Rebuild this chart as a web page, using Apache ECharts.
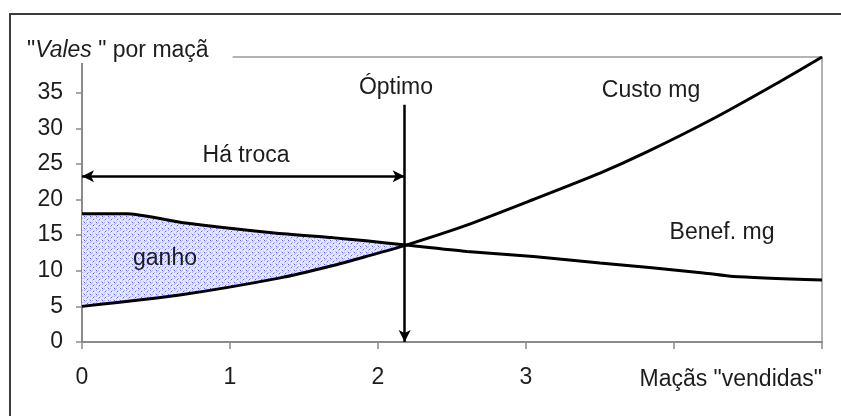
<!DOCTYPE html>
<html>
<head>
<meta charset="utf-8">
<script src="https://cdn.jsdelivr.net/npm/echarts@6/dist/echarts.min.js"></script>
<style>
  html, body { margin: 0; padding: 0; background: #fff; }
  #chart { width: 841px; height: 416px; }
</style>
</head>
<body>
<div id="chart"></div>
<script>
// Marginal benefit curve (vales per apple) against apples sold
const benefX = [0, 0.3, 0.7, 1.3, 1.69, 1.92, 2.19, 2.6, 3.05, 3.5, 4.2, 4.4, 5];
const benefY = [18, 18, 16.7, 15.3, 14.65, 14.2, 13.6, 12.7, 12.0, 11.1, 9.7, 9.2, 8.7];

// Marginal cost curve
const custoX = [0, 0.66, 1.34, 1.69, 1.92, 2.19, 2.6, 3.05, 3.5, 3.81, 4.27, 4.72, 5];
const custoY = [5, 6.6, 9.0, 10.7, 12.0, 13.6, 16.4, 20.0, 23.7, 26.6, 31.4, 36.6, 40];

// Where the curves cross (end of the gain area)
const crossX = 2.19;

// Optimum quantity, top of its arrow, and height of the "trade" arrow
const optimoX = 2.18;
const optimoArrowTop = 33.3;
const trocaY = 23.25;

// Axis ticks
const xTicks = [0, 1, 2, 3];
const yTicks = [0, 5, 10, 15, 20, 25, 30, 35];

const FONT = '"Liberation Sans", Arial, sans-serif';
const FS = 23;
const INK = '#1c1c1c';

// Dotted blue fill for the gain area
function dotPattern() {
  const c = document.createElement('canvas');
  c.width = 6; c.height = 6;
  const g = c.getContext('2d');
  g.fillStyle = '#e6e8fc';
  g.fillRect(0, 0, 6, 6);
  g.fillStyle = '#5c5cf5';
  g.fillRect(0, 0, 1, 1);
  g.fillRect(3, 3, 1, 1);
  g.fillStyle = '#b0b3f7';
  g.fillRect(2, 0, 1, 1); g.fillRect(0, 2, 1, 1);
  g.fillRect(4, 2, 1, 1); g.fillRect(2, 4, 1, 1);
  g.fillRect(5, 5, 1, 1); g.fillRect(1, 1, 1, 1);
  return c;
}

const benefData = benefX.map((x, i) => [x, benefY[i]]);
const custoData = custoX.map((x, i) => [x, custoY[i]]);

const chart = echarts.init(document.getElementById('chart'), null, { renderer: 'canvas' });

function label(text, x, y, align) {
  return {
    type: 'text', z: 20, x: x, y: y,
    style: {
      text: text, font: FS + 'px ' + FONT, fill: INK,
      textAlign: align || 'center', textVerticalAlign: 'middle'
    }
  };
}

chart.setOption({
  animation: false,
  backgroundColor: '#fff',
  title: {
    text: '{q|"}{i|Vales}{q| " por maçã}',
    left: 24,
    top: 38,
    backgroundColor: '#fff',
    padding: [1, 24, 1, 3],
    textStyle: {
      fontWeight: 'normal',
      rich: {
        q: { fontFamily: FONT, fontSize: FS, color: INK, fontWeight: 'normal' },
        i: { fontFamily: FONT, fontSize: FS, color: INK, fontWeight: 'normal', fontStyle: 'italic' }
      }
    }
  },
  grid: {
    left: 82, right: 19, top: 57, bottom: 74,
    show: true,
    borderColor: '#9a9a9a',
    borderWidth: 1.5,
    backgroundColor: 'transparent'
  },
  xAxis: {
    type: 'value',
    min: 0, max: 5, interval: 1,
    splitLine: { show: false },
    axisLine: { show: true, onZero: false, lineStyle: { color: '#8a8a8a', width: 2 } },
    axisTick: { show: true, length: 7, lineStyle: { color: '#8a8a8a', width: 1.5 } },
    axisLabel: {
      margin: 24,
      fontFamily: FONT, fontSize: FS, color: INK,
      formatter: v => (xTicks.indexOf(v) >= 0 ? String(v) : '')
    }
  },
  yAxis: {
    type: 'value',
    min: 0, max: 40, interval: 5,
    splitLine: { show: false },
    axisLine: { show: true, lineStyle: { color: '#8a8a8a', width: 2 } },
    axisTick: { show: true, length: 6, lineStyle: { color: '#8a8a8a', width: 1.5 } },
    axisLabel: {
      margin: 19,
      fontFamily: FONT, fontSize: FS, color: INK,
      formatter: v => (yTicks.indexOf(v) >= 0 ? String(v) : '')
    }
  },
  graphic: [
    {
      type: 'rect', z: 1, silent: true,
      shape: { x: 10, y: 14, width: 1000, height: 1000 },
      style: { fill: 'none', stroke: '#3c3c3c', lineWidth: 2 }
    },
    label('Óptimo', 396, 88),
    label('Há troca', 246, 156),
    label('ganho', 165, 259),
    label('Custo mg', 651, 91),
    label('Benef. mg', 722, 233),
    label('Maçãs "vendidas"', 822, 380, 'right')
  ],
  series: [
    {
      // Shaded gain between the two curves, up to their crossing
      type: 'custom',
      name: 'ganho',
      z: 1,
      silent: true,
      data: [[0, 0]],
      renderItem: function (params, api) {
        const pts = [];
        for (let i = 0; i < benefX.length; i++) {
          if (benefX[i] <= crossX) pts.push(api.coord([benefX[i], benefY[i]]));
        }
        for (let i = custoX.length - 1; i >= 0; i--) {
          if (custoX[i] <= crossX) pts.push(api.coord([custoX[i], custoY[i]]));
        }
        return {
          type: 'polygon',
          shape: { points: pts },
          style: { fill: { image: dotPattern(), repeat: 'repeat' }, stroke: 'none' }
        };
      }
    },
    {
      type: 'line',
      name: 'Benef. mg',
      z: 5,
      data: benefData,
      smooth: 0.2,
      showSymbol: false,
      symbol: 'none',
      lineStyle: { color: '#000', width: 3 },
      markLine: {
        silent: true,
        symbol: ['none', 'arrow'],
        symbolSize: [9, 12],
        label: { show: false },
        lineStyle: { color: '#000', width: 2.5, type: 'solid' },
        data: [[{ coord: [optimoX, optimoArrowTop] }, { coord: [optimoX, 0] }]]
      }
    },
    {
      type: 'line',
      name: 'Custo mg',
      z: 5,
      data: custoData,
      smooth: 0.2,
      showSymbol: false,
      symbol: 'none',
      lineStyle: { color: '#000', width: 3 },
      markLine: {
        silent: true,
        symbol: ['arrow', 'arrow'],
        symbolSize: [9, 12],
        label: { show: false },
        lineStyle: { color: '#000', width: 2.5, type: 'solid' },
        data: [[{ coord: [0, trocaY] }, { coord: [optimoX, trocaY] }]]
      }
    }
  ]
});
</script>
</body>
</html>
